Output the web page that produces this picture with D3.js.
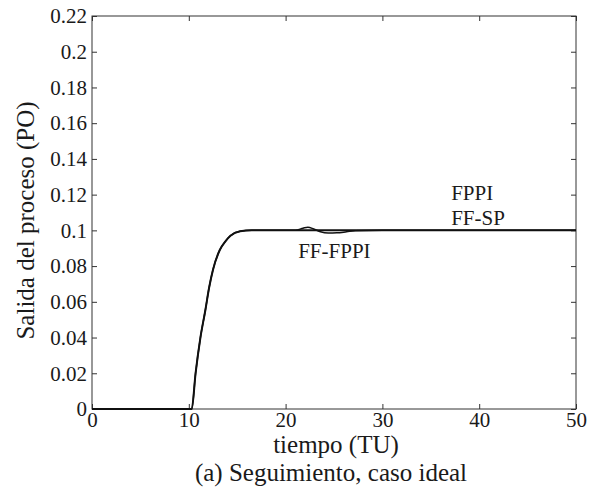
<!DOCTYPE html>
<html>
<head>
<meta charset="utf-8">
<script src="https://cdn.jsdelivr.net/npm/d3@7"></script>
<style>
  body { margin: 0; background: #fff; }
  svg text { font-family: 'Liberation Serif', 'DejaVu Serif'; fill: #1a1a1a; }
</style>
</head>
<body>
<svg id="chart"></svg>
<script>
// time axis and tick labels
const xTicks = [0, 10, 20, 30, 40, 50];
const yTicks = [0, 0.02, 0.04, 0.06, 0.08, 0.1, 0.12, 0.14, 0.16, 0.18, 0.2, 0.22];

// FPPI and FF-SP responses lie on top of each other
const timeBase = [0, 10, 10.3, 10.7, 11.2, 11.7, 12.1, 12.5, 13.2, 13.8, 14.3, 15.3, 16.5, 20, 30, 40, 50];
const fppi     = [0, 0, 0, 0.02, 0.04, 0.055, 0.068, 0.078, 0.089, 0.094, 0.097, 0.0995, 0.1, 0.1, 0.1, 0.1, 0.1];

// FF-FPPI: same rise, small bump near t=22 then a dip
const timeFF  = [0, 10, 10.3, 10.7, 11.2, 11.7, 12.1, 12.5, 13.2, 13.8, 14.3, 15.3, 16.5, 21, 21.8, 22.3, 22.9, 23.6, 24.4, 25.3, 26.3, 27.2, 30, 50];
const ffFppi  = [0, 0, 0, 0.02, 0.04, 0.055, 0.068, 0.078, 0.089, 0.094, 0.097, 0.0995, 0.1, 0.1, 0.1012, 0.1018, 0.1008, 0.0992, 0.0985, 0.0986, 0.0992, 0.0998, 0.1, 0.1];

const labels = [
    { text: "FF-FPPI", t: 21.3, v: 0.0848 },
    { text: "FPPI",    t: 37.1, v: 0.1168 },
    { text: "FF-SP",   t: 37.1, v: 0.1028 }
];

const config = {
    width: 589, height: 500,
    margin: { top: 16, right: 13, bottom: 91, left: 92 }
};

const FONT = "'Liberation Serif', 'DejaVu Serif'";

const svg = d3.select('#chart')
    .attr('width', config.width)
    .attr('height', config.height);

const width = config.width - config.margin.left - config.margin.right;
const height = config.height - config.margin.top - config.margin.bottom;

const chart = svg.append('g')
    .attr('transform', `translate(${config.margin.left},${config.margin.top})`);

const xScale = d3.scaleLinear().domain([0, 50]).range([0, width]);
const yScale = d3.scaleLinear().domain([0, 0.22]).range([height, 0]);

const fmtY = d => d === 0 ? '0' : String(+d.toFixed(2));

// axes with inward ticks, matlab style
const styleAxis = g => {
    g.attr('font-family', FONT);
    g.select('.domain').remove();
    g.selectAll('line').attr('stroke', '#333').attr('stroke-width', 1);
    g.selectAll('text')
        .style('font-family', FONT)
        .style('font-size', '21px')
        .attr('fill', '#1a1a1a');
};

chart.append('g')
    .attr('transform', `translate(0,${height})`)
    .call(d3.axisBottom(xScale).tickValues(xTicks).tickSizeInner(-5).tickSizeOuter(0).tickPadding(3))
    .call(styleAxis)
    .selectAll('text').attr('dy', '0.71em');

chart.append('g')
    .call(d3.axisTop(xScale).tickValues(xTicks).tickSizeInner(-5).tickSizeOuter(0).tickFormat(''))
    .call(styleAxis);

chart.append('g')
    .call(d3.axisLeft(yScale).tickValues(yTicks).tickSizeInner(-5).tickSizeOuter(0).tickPadding(5).tickFormat(fmtY))
    .call(styleAxis);

chart.append('g')
    .attr('transform', `translate(${width},0)`)
    .call(d3.axisRight(yScale).tickValues(yTicks).tickSizeInner(-5).tickSizeOuter(0).tickFormat(''))
    .call(styleAxis);

// frame
chart.append('rect')
    .attr('width', width)
    .attr('height', height)
    .attr('fill', 'none')
    .attr('stroke', '#333')
    .attr('stroke-width', 1);

const line = d3.line()
    .x(d => xScale(d[0]))
    .y(d => yScale(d[1]))
    .curve(d3.curveMonotoneX);

chart.append('path')
    .datum(d3.zip(timeBase, fppi))
    .attr('d', line)
    .attr('fill', 'none')
    .attr('stroke', '#111')
    .attr('stroke-width', 2);

chart.append('path')
    .datum(d3.zip(timeFF, ffFppi))
    .attr('d', line)
    .attr('fill', 'none')
    .attr('stroke', '#111')
    .attr('stroke-width', 1.5);

chart.selectAll('.series-label')
    .data(labels)
    .join('text')
    .attr('class', 'series-label')
    .attr('x', d => xScale(d.t))
    .attr('y', d => yScale(d.v))
    .style('font-family', FONT)
    .style('font-size', '21px')
    .text(d => d.text);

// axis titles
const title = (x, y, txt) => svg.append('text')
    .attr('x', x)
    .attr('y', y)
    .attr('text-anchor', 'middle')
    .style('font-family', FONT)
    .style('font-size', '25px')
    .text(txt);

title(config.margin.left + width / 2 + 2, 453, 'tiempo (TU)');
title(config.margin.left + width / 2 - 3, 481, '(a) Seguimiento, caso ideal');
title(0, 0, 'Salida del proceso (PO)')
    .attr('transform', `translate(34,${config.margin.top + height / 2 + 8}) rotate(-90)`);
</script>
</body>
</html>
